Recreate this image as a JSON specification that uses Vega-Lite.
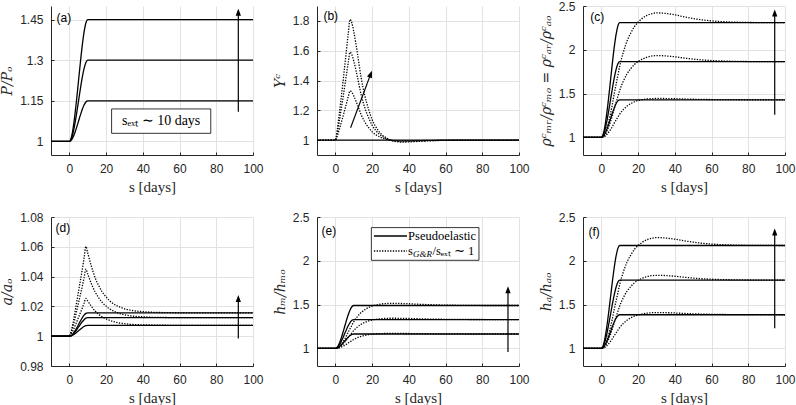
{
"$schema": "https://vega.github.io/schema/vega-lite/v6.json",
"background": "white",
"padding": {"left": 0, "top": 0, "right": 0, "bottom": 0},
"columns": 3,
"spacing": {"row": 62, "column": 64},
"bounds": "flush",
"config": {
 "view": {"stroke": null},
 "axis": {"grid": true, "gridColor": "#e2e2e2", "gridWidth": 1, "domainColor": "#262626", "domainWidth": 1, "tickColor": "#262626", "tickSize": -3, "labelFont": "Liberation Sans", "labelFontSize": 12, "labelColor": "#262626", "labelPadding": 11, "labelFlush": false, "titleFont": "Liberation Serif", "titleFontSize": 15, "titleFontWeight": "normal", "titleColor": "#262626", "titlePadding": 5},
 "axisY": {"titleFontStyle": "italic", "titleFont": "DejaVu Serif", "titleFontSize": 14}
},
"datasets": {
 "a": [
  {"s": -10, "p1": 1, "p2": 1, "p3": 1},
  {"s": 0, "p1": 1, "p2": 1, "p3": 1},
  {"s": 1, "p1": 1.0042, "p2": 1.0084, "p3": 1.0126},
  {"s": 2, "p1": 1.0156, "p2": 1.0312, "p3": 1.0468},
  {"s": 3, "p1": 1.0324, "p2": 1.0648, "p3": 1.0972},
  {"s": 4, "p1": 1.0528, "p2": 1.1056, "p3": 1.1584},
  {"s": 5, "p1": 1.075, "p2": 1.15, "p3": 1.225},
  {"s": 6, "p1": 1.0972, "p2": 1.1944, "p3": 1.2916},
  {"s": 7, "p1": 1.1176, "p2": 1.2352, "p3": 1.3528},
  {"s": 8, "p1": 1.1344, "p2": 1.2688, "p3": 1.4032},
  {"s": 9, "p1": 1.1458, "p2": 1.2916, "p3": 1.4374},
  {"s": 10, "p1": 1.15, "p2": 1.3, "p3": 1.45},
  {"s": 100, "p1": 1.15, "p2": 1.3, "p3": 1.45}
 ],
 "b": [
  {"s": -10, "p1": 1, "g1": 1, "g2": 1, "g3": 1},
  {"s": 0, "p1": 1, "g1": 1, "g2": 1, "g3": 1},
  {"s": 1, "p1": 1, "g1": 1.0264, "g2": 1.0472, "g3": 1.0648},
  {"s": 2, "p1": 1, "g1": 1.066, "g2": 1.118, "g3": 1.162},
  {"s": 3, "p1": 1, "g1": 1.1089, "g2": 1.1947, "g3": 1.2673},
  {"s": 4, "p1": 1, "g1": 1.1518, "g2": 1.2714, "g3": 1.3726},
  {"s": 5, "p1": 1, "g1": 1.198, "g2": 1.354, "g3": 1.486},
  {"s": 6, "p1": 1, "g1": 1.2442, "g2": 1.4366, "g3": 1.5994},
  {"s": 7, "p1": 1, "g1": 1.2904, "g2": 1.5192, "g3": 1.7128},
  {"s": 8, "p1": 1, "g1": 1.33, "g2": 1.59, "g3": 1.81},
  {"s": 9, "p1": 1, "g1": 1.3201, "g2": 1.5723, "g3": 1.7857},
  {"s": 10, "p1": 1, "g1": 1.297, "g2": 1.531, "g3": 1.729},
  {"s": 12, "p1": 1, "g1": 1.2376, "g2": 1.4248, "g3": 1.5832},
  {"s": 14, "p1": 1, "g1": 1.1716, "g2": 1.3068, "g3": 1.4212},
  {"s": 16, "p1": 1, "g1": 1.1221, "g2": 1.2183, "g3": 1.2997},
  {"s": 18, "p1": 1, "g1": 1.0858, "g2": 1.1534, "g3": 1.2106},
  {"s": 20, "p1": 1, "g1": 1.0561, "g2": 1.1003, "g3": 1.1377},
  {"s": 22, "p1": 1, "g1": 1.0363, "g2": 1.0649, "g3": 1.0891},
  {"s": 25, "p1": 1, "g1": 1.0165, "g2": 1.0295, "g3": 1.0405},
  {"s": 28, "p1": 1, "g1": 1.005, "g2": 1.0089, "g3": 1.0122},
  {"s": 30, "p1": 1, "g1": 1, "g2": 1, "g3": 1},
  {"s": 33, "p1": 1, "g1": 0.996, "g2": 0.9929, "g3": 0.9903},
  {"s": 36, "p1": 1, "g1": 0.9947, "g2": 0.9906, "g3": 0.987},
  {"s": 40, "p1": 1, "g1": 0.995, "g2": 0.9912, "g3": 0.9878},
  {"s": 45, "p1": 1, "g1": 0.9964, "g2": 0.9935, "g3": 0.9911},
  {"s": 50, "p1": 1, "g1": 0.9977, "g2": 0.9959, "g3": 0.9943},
  {"s": 55, "p1": 1, "g1": 0.9987, "g2": 0.9976, "g3": 0.9968},
  {"s": 60, "p1": 1, "g1": 0.9993, "g2": 0.9988, "g3": 0.9984},
  {"s": 70, "p1": 1, "g1": 0.9997, "g2": 0.9994, "g3": 0.9992},
  {"s": 80, "p1": 1, "g1": 1, "g2": 1, "g3": 1},
  {"s": 90, "p1": 1, "g1": 1, "g2": 1, "g3": 1},
  {"s": 100, "p1": 1, "g1": 1, "g2": 1, "g3": 1}
 ],
 "c": [
  {"s": -10, "p1": 1, "p2": 1, "p3": 1, "g1": 1, "g2": 1, "g3": 1},
  {"s": 0, "p1": 1, "p2": 1, "p3": 1, "g1": 1, "g2": 1, "g3": 1},
  {"s": 1, "p1": 1.012, "p2": 1.0242, "p3": 1.0367, "g1": 1.0043, "g2": 1.0087, "g3": 1.0131},
  {"s": 2, "p1": 1.0447, "p2": 1.09, "p3": 1.1362, "g1": 1.0151, "g2": 1.0303, "g3": 1.0459},
  {"s": 3, "p1": 1.0929, "p2": 1.1868, "p3": 1.283, "g1": 1.0344, "g2": 1.0692, "g3": 1.1048},
  {"s": 4, "p1": 1.1514, "p2": 1.3045, "p3": 1.4611, "g1": 1.0602, "g2": 1.1211, "g3": 1.1834},
  {"s": 5, "p1": 1.215, "p2": 1.4325, "p3": 1.655, "g1": 1.0903, "g2": 1.1817, "g3": 1.2751},
  {"s": 6, "p1": 1.2786, "p2": 1.5605, "p3": 1.8489, "g1": 1.1247, "g2": 1.2509, "g3": 1.3799},
  {"s": 7, "p1": 1.3371, "p2": 1.6782, "p3": 2.027, "g1": 1.1634, "g2": 1.3287, "g3": 1.4978},
  {"s": 8, "p1": 1.3853, "p2": 1.775, "p3": 2.1738, "g1": 1.198, "g2": 1.3986, "g3": 1.6037},
  {"s": 9, "p1": 1.418, "p2": 1.8408, "p3": 2.2733, "g1": 1.2324, "g2": 1.4681, "g3": 1.7091},
  {"s": 10, "p1": 1.43, "p2": 1.865, "p3": 2.31, "g1": 1.2669, "g2": 1.5377, "g3": 1.8144},
  {"s": 12, "p1": 1.43, "p2": 1.865, "p3": 2.31, "g1": 1.319, "g2": 1.6436, "g3": 1.975},
  {"s": 14, "p1": 1.43, "p2": 1.865, "p3": 2.31, "g1": 1.3587, "g2": 1.7263, "g3": 2.1007},
  {"s": 16, "p1": 1.43, "p2": 1.865, "p3": 2.31, "g1": 1.386, "g2": 1.7851, "g3": 2.1904},
  {"s": 18, "p1": 1.43, "p2": 1.865, "p3": 2.31, "g1": 1.4074, "g2": 1.833, "g3": 2.2639},
  {"s": 20, "p1": 1.43, "p2": 1.865, "p3": 2.31, "g1": 1.4212, "g2": 1.8667, "g3": 2.3159},
  {"s": 22, "p1": 1.43, "p2": 1.865, "p3": 2.31, "g1": 1.4303, "g2": 1.891, "g3": 2.3536},
  {"s": 25, "p1": 1.43, "p2": 1.865, "p3": 2.31, "g1": 1.4394, "g2": 1.9169, "g3": 2.3941},
  {"s": 28, "p1": 1.43, "p2": 1.865, "p3": 2.31, "g1": 1.4437, "g2": 1.9304, "g3": 2.4154},
  {"s": 30, "p1": 1.43, "p2": 1.865, "p3": 2.31, "g1": 1.4451, "g2": 1.9342, "g3": 2.4214},
  {"s": 33, "p1": 1.43, "p2": 1.865, "p3": 2.31, "g1": 1.4447, "g2": 1.9328, "g3": 2.4191},
  {"s": 36, "p1": 1.43, "p2": 1.865, "p3": 2.31, "g1": 1.4438, "g2": 1.9287, "g3": 2.4124},
  {"s": 40, "p1": 1.43, "p2": 1.865, "p3": 2.31, "g1": 1.442, "g2": 1.9204, "g3": 2.3991},
  {"s": 45, "p1": 1.43, "p2": 1.865, "p3": 2.31, "g1": 1.439, "g2": 1.9065, "g3": 2.3768},
  {"s": 50, "p1": 1.43, "p2": 1.865, "p3": 2.31, "g1": 1.4363, "g2": 1.894, "g3": 2.3568},
  {"s": 55, "p1": 1.43, "p2": 1.865, "p3": 2.31, "g1": 1.4342, "g2": 1.8844, "g3": 2.3412},
  {"s": 60, "p1": 1.43, "p2": 1.865, "p3": 2.31, "g1": 1.4327, "g2": 1.8775, "g3": 2.33},
  {"s": 70, "p1": 1.43, "p2": 1.865, "p3": 2.31, "g1": 1.4311, "g2": 1.8698, "g3": 2.3178},
  {"s": 80, "p1": 1.43, "p2": 1.865, "p3": 2.31, "g1": 1.4303, "g2": 1.8664, "g3": 2.3122},
  {"s": 90, "p1": 1.43, "p2": 1.865, "p3": 2.31, "g1": 1.4301, "g2": 1.8653, "g3": 2.3106},
  {"s": 100, "p1": 1.43, "p2": 1.865, "p3": 2.31, "g1": 1.43, "g2": 1.865, "g3": 2.31}
 ],
 "d": [
  {"s": -10, "p1": 1, "p2": 1, "p3": 1, "g1": 1, "g2": 1, "g3": 1},
  {"s": 0, "p1": 1, "p2": 1, "p3": 1, "g1": 1, "g2": 1, "g3": 1},
  {"s": 1, "p1": 1.0002, "p2": 1.0003, "p3": 1.0004, "g1": 1.0015, "g2": 1.0027, "g3": 1.0036},
  {"s": 2, "p1": 1.0008, "p2": 1.0013, "p3": 1.0016, "g1": 1.0038, "g2": 1.0068, "g3": 1.009},
  {"s": 3, "p1": 1.0016, "p2": 1.0027, "p3": 1.0034, "g1": 1.0066, "g2": 1.0117, "g3": 1.0157},
  {"s": 4, "p1": 1.0026, "p2": 1.0044, "p3": 1.0055, "g1": 1.0097, "g2": 1.0171, "g3": 1.0229},
  {"s": 5, "p1": 1.0037, "p2": 1.0062, "p3": 1.0079, "g1": 1.0127, "g2": 1.0225, "g3": 1.0301},
  {"s": 6, "p1": 1.0047, "p2": 1.008, "p3": 1.0102, "g1": 1.0157, "g2": 1.0279, "g3": 1.0373},
  {"s": 7, "p1": 1.0057, "p2": 1.0097, "p3": 1.0123, "g1": 1.0188, "g2": 1.0333, "g3": 1.0445},
  {"s": 8, "p1": 1.0065, "p2": 1.0111, "p3": 1.0141, "g1": 1.0221, "g2": 1.0392, "g3": 1.0524},
  {"s": 9, "p1": 1.0071, "p2": 1.0121, "p3": 1.0153, "g1": 1.0254, "g2": 1.045, "g3": 1.0602},
  {"s": 10, "p1": 1.0073, "p2": 1.0124, "p3": 1.0157, "g1": 1.0236, "g2": 1.0417, "g3": 1.0558},
  {"s": 12, "p1": 1.0073, "p2": 1.0124, "p3": 1.0157, "g1": 1.02, "g2": 1.0352, "g3": 1.0469},
  {"s": 14, "p1": 1.0073, "p2": 1.0124, "p3": 1.0157, "g1": 1.0169, "g2": 1.0297, "g3": 1.0393},
  {"s": 16, "p1": 1.0073, "p2": 1.0124, "p3": 1.0157, "g1": 1.0147, "g2": 1.0258, "g3": 1.0339},
  {"s": 18, "p1": 1.0073, "p2": 1.0124, "p3": 1.0157, "g1": 1.0129, "g2": 1.0225, "g3": 1.0295},
  {"s": 20, "p1": 1.0073, "p2": 1.0124, "p3": 1.0157, "g1": 1.0116, "g2": 1.0202, "g3": 1.0264},
  {"s": 22, "p1": 1.0073, "p2": 1.0124, "p3": 1.0157, "g1": 1.0106, "g2": 1.0183, "g3": 1.0237},
  {"s": 25, "p1": 1.0073, "p2": 1.0124, "p3": 1.0157, "g1": 1.0095, "g2": 1.0163, "g3": 1.021},
  {"s": 28, "p1": 1.0073, "p2": 1.0124, "p3": 1.0157, "g1": 1.0087, "g2": 1.015, "g3": 1.0193},
  {"s": 30, "p1": 1.0073, "p2": 1.0124, "p3": 1.0157, "g1": 1.0084, "g2": 1.0144, "g3": 1.0184},
  {"s": 33, "p1": 1.0073, "p2": 1.0124, "p3": 1.0157, "g1": 1.008, "g2": 1.0137, "g3": 1.0175},
  {"s": 36, "p1": 1.0073, "p2": 1.0124, "p3": 1.0157, "g1": 1.0078, "g2": 1.0133, "g3": 1.0169},
  {"s": 40, "p1": 1.0073, "p2": 1.0124, "p3": 1.0157, "g1": 1.0076, "g2": 1.013, "g3": 1.0165},
  {"s": 45, "p1": 1.0073, "p2": 1.0124, "p3": 1.0157, "g1": 1.0075, "g2": 1.0127, "g3": 1.0161},
  {"s": 50, "p1": 1.0073, "p2": 1.0124, "p3": 1.0157, "g1": 1.0074, "g2": 1.0126, "g3": 1.0159},
  {"s": 55, "p1": 1.0073, "p2": 1.0124, "p3": 1.0157, "g1": 1.0073, "g2": 1.0125, "g3": 1.0158},
  {"s": 60, "p1": 1.0073, "p2": 1.0124, "p3": 1.0157, "g1": 1.0073, "g2": 1.0124, "g3": 1.0157},
  {"s": 70, "p1": 1.0073, "p2": 1.0124, "p3": 1.0157, "g1": 1.0073, "g2": 1.0124, "g3": 1.0157},
  {"s": 80, "p1": 1.0073, "p2": 1.0124, "p3": 1.0157, "g1": 1.0073, "g2": 1.0124, "g3": 1.0157},
  {"s": 90, "p1": 1.0073, "p2": 1.0124, "p3": 1.0157, "g1": 1.0073, "g2": 1.0124, "g3": 1.0157},
  {"s": 100, "p1": 1.0073, "p2": 1.0124, "p3": 1.0157, "g1": 1.0073, "g2": 1.0124, "g3": 1.0157}
 ],
 "e": [
  {"s": -10, "p1": 1, "p2": 1, "p3": 1, "g1": 1, "g2": 1, "g3": 1},
  {"s": 0, "p1": 1, "p2": 1, "p3": 1, "g1": 1, "g2": 1, "g3": 1},
  {"s": 1, "p1": 1.0046, "p2": 1.0092, "p3": 1.0137, "g1": 1.0017, "g2": 1.0033, "g3": 1.0049},
  {"s": 2, "p1": 1.0172, "p2": 1.0343, "p3": 1.051, "g1": 1.0058, "g2": 1.0116, "g3": 1.0172},
  {"s": 3, "p1": 1.0356, "p2": 1.0713, "p3": 1.1058, "g1": 1.0132, "g2": 1.0264, "g3": 1.0392},
  {"s": 4, "p1": 1.0581, "p2": 1.1162, "p3": 1.1725, "g1": 1.0231, "g2": 1.0462, "g3": 1.0686},
  {"s": 5, "p1": 1.0825, "p2": 1.165, "p3": 1.245, "g1": 1.0347, "g2": 1.0693, "g3": 1.1029},
  {"s": 6, "p1": 1.1069, "p2": 1.2138, "p3": 1.3175, "g1": 1.0479, "g2": 1.0957, "g3": 1.1421},
  {"s": 7, "p1": 1.1294, "p2": 1.2587, "p3": 1.3842, "g1": 1.0627, "g2": 1.1254, "g3": 1.1862},
  {"s": 8, "p1": 1.1478, "p2": 1.2957, "p3": 1.439, "g1": 1.076, "g2": 1.152, "g3": 1.2257},
  {"s": 9, "p1": 1.1604, "p2": 1.3208, "p3": 1.4763, "g1": 1.0892, "g2": 1.1784, "g3": 1.265},
  {"s": 10, "p1": 1.165, "p2": 1.33, "p3": 1.49, "g1": 1.1024, "g2": 1.2049, "g3": 1.3043},
  {"s": 12, "p1": 1.165, "p2": 1.33, "p3": 1.49, "g1": 1.1225, "g2": 1.245, "g3": 1.3639},
  {"s": 14, "p1": 1.165, "p2": 1.33, "p3": 1.49, "g1": 1.1378, "g2": 1.2757, "g3": 1.4097},
  {"s": 16, "p1": 1.165, "p2": 1.33, "p3": 1.49, "g1": 1.1484, "g2": 1.297, "g3": 1.4416},
  {"s": 18, "p1": 1.165, "p2": 1.33, "p3": 1.49, "g1": 1.1568, "g2": 1.3139, "g3": 1.467},
  {"s": 20, "p1": 1.165, "p2": 1.33, "p3": 1.49, "g1": 1.1622, "g2": 1.325, "g3": 1.4839},
  {"s": 22, "p1": 1.165, "p2": 1.33, "p3": 1.49, "g1": 1.166, "g2": 1.3325, "g3": 1.4955},
  {"s": 25, "p1": 1.165, "p2": 1.33, "p3": 1.49, "g1": 1.1697, "g2": 1.3402, "g3": 1.5074},
  {"s": 28, "p1": 1.165, "p2": 1.33, "p3": 1.49, "g1": 1.1715, "g2": 1.3439, "g3": 1.5133},
  {"s": 30, "p1": 1.165, "p2": 1.33, "p3": 1.49, "g1": 1.172, "g2": 1.345, "g3": 1.515},
  {"s": 33, "p1": 1.165, "p2": 1.33, "p3": 1.49, "g1": 1.1719, "g2": 1.3447, "g3": 1.5145},
  {"s": 36, "p1": 1.165, "p2": 1.33, "p3": 1.49, "g1": 1.1714, "g2": 1.3438, "g3": 1.513},
  {"s": 40, "p1": 1.165, "p2": 1.33, "p3": 1.49, "g1": 1.1706, "g2": 1.342, "g3": 1.51},
  {"s": 45, "p1": 1.165, "p2": 1.33, "p3": 1.49, "g1": 1.1692, "g2": 1.339, "g3": 1.505},
  {"s": 50, "p1": 1.165, "p2": 1.33, "p3": 1.49, "g1": 1.1679, "g2": 1.3363, "g3": 1.5005},
  {"s": 55, "p1": 1.165, "p2": 1.33, "p3": 1.49, "g1": 1.167, "g2": 1.3342, "g3": 1.497},
  {"s": 60, "p1": 1.165, "p2": 1.33, "p3": 1.49, "g1": 1.1663, "g2": 1.3327, "g3": 1.4945},
  {"s": 70, "p1": 1.165, "p2": 1.33, "p3": 1.49, "g1": 1.1655, "g2": 1.3311, "g3": 1.4918},
  {"s": 80, "p1": 1.165, "p2": 1.33, "p3": 1.49, "g1": 1.1651, "g2": 1.3303, "g3": 1.4905},
  {"s": 90, "p1": 1.165, "p2": 1.33, "p3": 1.49, "g1": 1.165, "g2": 1.3301, "g3": 1.4901},
  {"s": 100, "p1": 1.165, "p2": 1.33, "p3": 1.49, "g1": 1.165, "g2": 1.33, "g3": 1.49}
 ],
 "f": [
  {"s": -10, "p1": 1, "p2": 1, "p3": 1, "g1": 1, "g2": 1, "g3": 1},
  {"s": 0, "p1": 1, "p2": 1, "p3": 1, "g1": 1, "g2": 1, "g3": 1},
  {"s": 1, "p1": 1.0108, "p2": 1.0218, "p3": 1.0329, "g1": 1.0039, "g2": 1.0078, "g3": 1.0118},
  {"s": 2, "p1": 1.04, "p2": 1.0811, "p3": 1.1222, "g1": 1.0135, "g2": 1.0273, "g3": 1.0411},
  {"s": 3, "p1": 1.0832, "p2": 1.1685, "p3": 1.2538, "g1": 1.0308, "g2": 1.0624, "g3": 1.094},
  {"s": 4, "p1": 1.1355, "p2": 1.2746, "p3": 1.4136, "g1": 1.0539, "g2": 1.1092, "g3": 1.1645},
  {"s": 5, "p1": 1.1925, "p2": 1.39, "p3": 1.5875, "g1": 1.0809, "g2": 1.1638, "g3": 1.2468},
  {"s": 6, "p1": 1.2495, "p2": 1.5054, "p3": 1.7614, "g1": 1.1117, "g2": 1.2262, "g3": 1.3408},
  {"s": 7, "p1": 1.3018, "p2": 1.6115, "p3": 1.9212, "g1": 1.1463, "g2": 1.2964, "g3": 1.4465},
  {"s": 8, "p1": 1.345, "p2": 1.6989, "p3": 2.0528, "g1": 1.1774, "g2": 1.3594, "g3": 1.5414},
  {"s": 9, "p1": 1.3742, "p2": 1.7582, "p3": 2.1421, "g1": 1.2083, "g2": 1.422, "g3": 1.6359},
  {"s": 10, "p1": 1.385, "p2": 1.78, "p3": 2.175, "g1": 1.2392, "g2": 1.4847, "g3": 1.7303},
  {"s": 12, "p1": 1.385, "p2": 1.78, "p3": 2.175, "g1": 1.2862, "g2": 1.58, "g3": 1.874},
  {"s": 14, "p1": 1.385, "p2": 1.78, "p3": 2.175, "g1": 1.3226, "g2": 1.654, "g3": 1.9861},
  {"s": 16, "p1": 1.385, "p2": 1.78, "p3": 2.175, "g1": 1.3482, "g2": 1.7063, "g3": 2.0656},
  {"s": 18, "p1": 1.385, "p2": 1.78, "p3": 2.175, "g1": 1.3688, "g2": 1.7486, "g3": 2.1301},
  {"s": 20, "p1": 1.385, "p2": 1.78, "p3": 2.175, "g1": 1.3829, "g2": 1.7779, "g3": 2.1754},
  {"s": 22, "p1": 1.385, "p2": 1.78, "p3": 2.175, "g1": 1.3928, "g2": 1.7986, "g3": 2.2077},
  {"s": 25, "p1": 1.385, "p2": 1.78, "p3": 2.175, "g1": 1.4032, "g2": 1.8206, "g3": 2.2421},
  {"s": 28, "p1": 1.385, "p2": 1.78, "p3": 2.175, "g1": 1.4085, "g2": 1.8318, "g3": 2.26},
  {"s": 30, "p1": 1.385, "p2": 1.78, "p3": 2.175, "g1": 1.41, "g2": 1.835, "g3": 2.265},
  {"s": 33, "p1": 1.385, "p2": 1.78, "p3": 2.175, "g1": 1.4095, "g2": 1.8339, "g3": 2.2632},
  {"s": 36, "p1": 1.385, "p2": 1.78, "p3": 2.175, "g1": 1.408, "g2": 1.8306, "g3": 2.2578},
  {"s": 40, "p1": 1.385, "p2": 1.78, "p3": 2.175, "g1": 1.405, "g2": 1.824, "g3": 2.247},
  {"s": 45, "p1": 1.385, "p2": 1.78, "p3": 2.175, "g1": 1.4, "g2": 1.813, "g3": 2.229},
  {"s": 50, "p1": 1.385, "p2": 1.78, "p3": 2.175, "g1": 1.3955, "g2": 1.8031, "g3": 2.2128},
  {"s": 55, "p1": 1.385, "p2": 1.78, "p3": 2.175, "g1": 1.392, "g2": 1.7954, "g3": 2.2002},
  {"s": 60, "p1": 1.385, "p2": 1.78, "p3": 2.175, "g1": 1.3895, "g2": 1.7899, "g3": 2.1912},
  {"s": 70, "p1": 1.385, "p2": 1.78, "p3": 2.175, "g1": 1.3868, "g2": 1.7839, "g3": 2.1813},
  {"s": 80, "p1": 1.385, "p2": 1.78, "p3": 2.175, "g1": 1.3855, "g2": 1.7811, "g3": 2.1768},
  {"s": 90, "p1": 1.385, "p2": 1.78, "p3": 2.175, "g1": 1.3851, "g2": 1.7803, "g3": 2.1755},
  {"s": 100, "p1": 1.385, "p2": 1.78, "p3": 2.175, "g1": 1.385, "g2": 1.78, "g3": 2.175}
 ]
},
"concat": [
 {
  "width": 202, "height": 149,
  "encoding": {
   "x": {"field": "s", "type": "quantitative", "scale": {"domain": [-10, 100], "nice": false}, "axis": {"values": [0, 20, 40, 60, 80, 100], "format": "d", "title": "s [days]"}},
   "y": {"field": "value", "type": "quantitative", "scale": {"domain": [0.95, 1.5], "nice": false, "zero": false}, "axis": {"values": [1, 1.15, 1.3, 1.45], "format": ".2~f", "title": "P/Pₒ"}}
  },
  "layer": [
   {"data": {"name": "a"}, "transform": [{"fold": ["p1", "p2", "p3"]}], "mark": {"type": "line", "interpolate": "monotone", "color": "black", "strokeWidth": 1.3}, "encoding": {"detail": {"field": "key", "type": "nominal"}}},
   {"data": {"values": [{"s": 23, "s2": 77, "value": 1.03, "value2": 1.12}]}, "mark": {"type": "rect", "fill": "white", "stroke": "black", "strokeWidth": 0.8}, "encoding": {"x2": {"field": "s2"}, "y2": {"field": "value2"}}},
   {"data": {"values": [{"s": 50, "value": 1.075, "label": "sₑₓₜ ∼ 10 days"}]}, "mark": {"type": "text", "font": "Liberation Serif", "fontSize": 14, "color": "black"}, "encoding": {"text": {"field": "label"}}},
   {"data": {"values": [{"s": 92, "s2": 92, "value": 1.11, "value2": 1.48}]}, "mark": {"type": "rule", "color": "black", "strokeWidth": 1.2}, "encoding": {"x2": {"field": "s2"}, "y2": {"field": "value2"}}},
   {"data": {"values": [{"s": 92, "value": 1.49}]}, "mark": {"type": "point", "shape": "M0,0L-0.38,1L0.38,1Z", "filled": true, "color": "black", "opacity": 1, "size": 196, "angle": 0}},
   {"data": {"values": [{"s": -7, "value": 1.457, "label": "(a)"}]}, "mark": {"type": "text", "align": "left", "baseline": "middle", "font": "Liberation Sans", "fontSize": 12, "color": "black"}, "encoding": {"text": {"field": "label"}}}
  ]
 },
 {
  "width": 202, "height": 149,
  "encoding": {
   "x": {"field": "s", "type": "quantitative", "scale": {"domain": [-10, 100], "nice": false}, "axis": {"values": [0, 20, 40, 60, 80, 100], "format": "d", "title": "s [days]"}},
   "y": {"field": "value", "type": "quantitative", "scale": {"domain": [0.9, 1.9], "nice": false, "zero": false}, "axis": {"values": [1, 1.2, 1.4, 1.6, 1.8], "format": ".1~f", "title": "Υᶜ"}}
  },
  "layer": [
   {"data": {"name": "b"}, "transform": [{"fold": ["p1"]}], "mark": {"type": "line", "interpolate": "monotone", "color": "black", "strokeWidth": 1.3}, "encoding": {"detail": {"field": "key", "type": "nominal"}}},
   {"data": {"name": "b"}, "transform": [{"fold": ["g1", "g2", "g3"]}], "mark": {"type": "line", "interpolate": "monotone", "color": "black", "strokeWidth": 1.3, "strokeDash": [1.3, 1.4]}, "encoding": {"detail": {"field": "key", "type": "nominal"}}},
   {"data": {"values": [{"s": 8.3, "s2": 19.33, "value": 1.083, "value2": 1.446}]}, "mark": {"type": "rule", "color": "black", "strokeWidth": 1.2}, "encoding": {"x2": {"field": "s2"}, "y2": {"field": "value2"}}},
   {"data": {"values": [{"s": 19.9, "value": 1.465}]}, "mark": {"type": "point", "shape": "M0,0L-0.38,1L0.38,1Z", "filled": true, "color": "black", "opacity": 1, "size": 196, "angle": 20.5}},
   {"data": {"values": [{"s": -6.5, "value": 1.83, "label": "(b)"}]}, "mark": {"type": "text", "align": "left", "baseline": "middle", "font": "Liberation Sans", "fontSize": 12, "color": "black"}, "encoding": {"text": {"field": "label"}}}
  ]
 },
 {
  "width": 202, "height": 149,
  "encoding": {
   "x": {"field": "s", "type": "quantitative", "scale": {"domain": [-10, 100], "nice": false}, "axis": {"values": [0, 20, 40, 60, 80, 100], "format": "d", "title": "s [days]"}},
   "y": {"field": "value", "type": "quantitative", "scale": {"domain": [0.8, 2.5], "nice": false, "zero": false}, "axis": {"values": [1, 1.5, 2, 2.5], "format": ".1~f", "title": "ρᶜₘᵣ/ρᶜₘₒ = ρᶜₐᵣ/ρᶜₐₒ"}}
  },
  "layer": [
   {"data": {"name": "c"}, "transform": [{"fold": ["p1", "p2", "p3"]}], "mark": {"type": "line", "interpolate": "monotone", "color": "black", "strokeWidth": 1.3}, "encoding": {"detail": {"field": "key", "type": "nominal"}}},
   {"data": {"name": "c"}, "transform": [{"fold": ["g1", "g2", "g3"]}], "mark": {"type": "line", "interpolate": "monotone", "color": "black", "strokeWidth": 1.3, "strokeDash": [1.3, 1.4]}, "encoding": {"detail": {"field": "key", "type": "nominal"}}},
   {"data": {"values": [{"s": 94.4, "s2": 94.4, "value": 1.26, "value2": 2.426}]}, "mark": {"type": "rule", "color": "black", "strokeWidth": 1.2}, "encoding": {"x2": {"field": "s2"}, "y2": {"field": "value2"}}},
   {"data": {"values": [{"s": 94.4, "value": 2.46}]}, "mark": {"type": "point", "shape": "M0,0L-0.38,1L0.38,1Z", "filled": true, "color": "black", "opacity": 1, "size": 196, "angle": 0}},
   {"data": {"values": [{"s": -6, "value": 2.38, "label": "(c)"}]}, "mark": {"type": "text", "align": "left", "baseline": "middle", "font": "Liberation Sans", "fontSize": 12, "color": "black"}, "encoding": {"text": {"field": "label"}}}
  ]
 },
 {
  "width": 202, "height": 149,
  "encoding": {
   "x": {"field": "s", "type": "quantitative", "scale": {"domain": [-10, 100], "nice": false}, "axis": {"values": [0, 20, 40, 60, 80, 100], "format": "d", "title": "s [days]"}},
   "y": {"field": "value", "type": "quantitative", "scale": {"domain": [0.98, 1.08], "nice": false, "zero": false}, "axis": {"values": [0.98, 1, 1.02, 1.04, 1.06, 1.08], "format": ".2~f", "title": "a/aₒ"}}
  },
  "layer": [
   {"data": {"name": "d"}, "transform": [{"fold": ["p1", "p2", "p3"]}], "mark": {"type": "line", "interpolate": "monotone", "color": "black", "strokeWidth": 1.3}, "encoding": {"detail": {"field": "key", "type": "nominal"}}},
   {"data": {"name": "d"}, "transform": [{"fold": ["g1", "g2", "g3"]}], "mark": {"type": "line", "interpolate": "monotone", "color": "black", "strokeWidth": 1.3, "strokeDash": [1.3, 1.4]}, "encoding": {"detail": {"field": "key", "type": "nominal"}}},
   {"data": {"values": [{"s": 92, "s2": 92, "value": 0.9985, "value2": 1.0256}]}, "mark": {"type": "rule", "color": "black", "strokeWidth": 1.2}, "encoding": {"x2": {"field": "s2"}, "y2": {"field": "value2"}}},
   {"data": {"values": [{"s": 92, "value": 1.0276}]}, "mark": {"type": "point", "shape": "M0,0L-0.38,1L0.38,1Z", "filled": true, "color": "black", "opacity": 1, "size": 196, "angle": 0}},
   {"data": {"values": [{"s": -7.5, "value": 1.0726, "label": "(d)"}]}, "mark": {"type": "text", "align": "left", "baseline": "middle", "font": "Liberation Sans", "fontSize": 12, "color": "black"}, "encoding": {"text": {"field": "label"}}}
  ]
 },
 {
  "width": 202, "height": 149,
  "encoding": {
   "x": {"field": "s", "type": "quantitative", "scale": {"domain": [-10, 100], "nice": false}, "axis": {"values": [0, 20, 40, 60, 80, 100], "format": "d", "title": "s [days]"}},
   "y": {"field": "value", "type": "quantitative", "scale": {"domain": [0.8, 2.5], "nice": false, "zero": false}, "axis": {"values": [1, 1.5, 2, 2.5], "format": ".1~f", "title": "hₘ/hₘₒ"}}
  },
  "layer": [
   {"data": {"name": "e"}, "transform": [{"fold": ["p1", "p2", "p3"]}], "mark": {"type": "line", "interpolate": "monotone", "color": "black", "strokeWidth": 1.3}, "encoding": {"detail": {"field": "key", "type": "nominal"}}},
   {"data": {"name": "e"}, "transform": [{"fold": ["g1", "g2", "g3"]}], "mark": {"type": "line", "interpolate": "monotone", "color": "black", "strokeWidth": 1.3, "strokeDash": [1.3, 1.4]}, "encoding": {"detail": {"field": "key", "type": "nominal"}}},
   {"data": {"values": [{"s": 94, "s2": 94, "value": 0.96, "value2": 1.676}]}, "mark": {"type": "rule", "color": "black", "strokeWidth": 1.2}, "encoding": {"x2": {"field": "s2"}, "y2": {"field": "value2"}}},
   {"data": {"values": [{"s": 94, "value": 1.71}]}, "mark": {"type": "point", "shape": "M0,0L-0.38,1L0.38,1Z", "filled": true, "color": "black", "opacity": 1, "size": 196, "angle": 0}},
   {"data": {"values": [{"s": -7.5, "value": 2.34, "label": "(e)"}]}, "mark": {"type": "text", "align": "left", "baseline": "middle", "font": "Liberation Sans", "fontSize": 12, "color": "black"}, "encoding": {"text": {"field": "label"}}},
   {"data": {"values": [{"s": 19.6, "s2": 78.2, "value": 2.006, "value2": 2.379}]}, "mark": {"type": "rect", "fill": "white", "stroke": "black", "strokeWidth": 0.8}, "encoding": {"x2": {"field": "s2"}, "y2": {"field": "value2"}}},
   {"data": {"values": [{"s": 21, "s2": 39, "value": 2.283}]}, "mark": {"type": "rule", "color": "black", "strokeWidth": 1.3}, "encoding": {"x2": {"field": "s2"}}},
   {"data": {"values": [{"s": 21, "s2": 39, "value": 2.112}]}, "mark": {"type": "rule", "color": "black", "strokeWidth": 1.3, "strokeDash": [1.3, 1.4]}, "encoding": {"x2": {"field": "s2"}}},
   {"data": {"values": [{"s": 39.6, "value": 2.283, "label": "Pseudoelastic"}, {"s": 39.6, "value": 2.112, "label": "s"}, {"s": 52.9, "value": 2.112, "label": "/sₑₓₜ ∼ 1"}]}, "mark": {"type": "text", "align": "left", "baseline": "middle", "font": "Liberation Serif", "fontSize": 12.5, "color": "black"}, "encoding": {"text": {"field": "label"}}},
   {"data": {"values": [{"s": 42.3, "value": 2.077, "label": "G&R"}]}, "mark": {"type": "text", "align": "left", "baseline": "middle", "font": "Liberation Serif", "fontSize": 9, "fontStyle": "italic", "color": "black"}, "encoding": {"text": {"field": "label"}}}
  ]
 },
 {
  "width": 202, "height": 149,
  "encoding": {
   "x": {"field": "s", "type": "quantitative", "scale": {"domain": [-10, 100], "nice": false}, "axis": {"values": [0, 20, 40, 60, 80, 100], "format": "d", "title": "s [days]"}},
   "y": {"field": "value", "type": "quantitative", "scale": {"domain": [0.8, 2.5], "nice": false, "zero": false}, "axis": {"values": [1, 1.5, 2, 2.5], "format": ".1~f", "title": "hₐ/hₐₒ"}}
  },
  "layer": [
   {"data": {"name": "f"}, "transform": [{"fold": ["p1", "p2", "p3"]}], "mark": {"type": "line", "interpolate": "monotone", "color": "black", "strokeWidth": 1.3}, "encoding": {"detail": {"field": "key", "type": "nominal"}}},
   {"data": {"name": "f"}, "transform": [{"fold": ["g1", "g2", "g3"]}], "mark": {"type": "line", "interpolate": "monotone", "color": "black", "strokeWidth": 1.3, "strokeDash": [1.3, 1.4]}, "encoding": {"detail": {"field": "key", "type": "nominal"}}},
   {"data": {"values": [{"s": 94.4, "s2": 94.4, "value": 1.23, "value2": 2.336}]}, "mark": {"type": "rule", "color": "black", "strokeWidth": 1.2}, "encoding": {"x2": {"field": "s2"}, "y2": {"field": "value2"}}},
   {"data": {"values": [{"s": 94.4, "value": 2.37}]}, "mark": {"type": "point", "shape": "M0,0L-0.38,1L0.38,1Z", "filled": true, "color": "black", "opacity": 1, "size": 196, "angle": 0}},
   {"data": {"values": [{"s": -7, "value": 2.33, "label": "(f)"}]}, "mark": {"type": "text", "align": "left", "baseline": "middle", "font": "Liberation Sans", "fontSize": 12, "color": "black"}, "encoding": {"text": {"field": "label"}}}
  ]
 }
]
}
